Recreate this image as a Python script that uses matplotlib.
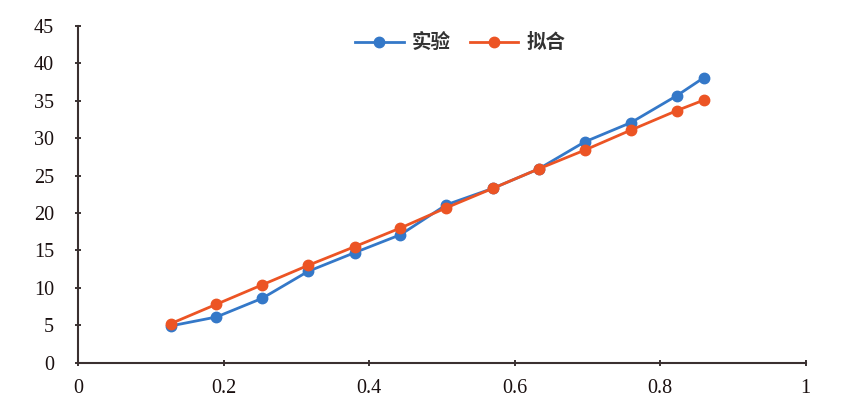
import matplotlib.pyplot as plt
import numpy as np

plt.rcParams['font.family'] = ['Liberation Serif', 'Noto Sans CJK SC', 'DejaVu Sans']

x = [0.127, 0.19, 0.253, 0.316, 0.38, 0.443, 0.506, 0.57, 0.633, 0.696, 0.76, 0.823, 0.86]
shiyan = [4.9, 6.1, 8.6, 12.2, 14.7, 17.1, 21.1, 23.3, 25.9, 29.5, 32.1, 35.7, 38.1]
nihe = [5.2, 7.8, 10.4, 13.0, 15.5, 18.0, 20.7, 23.3, 25.9, 28.4, 31.1, 33.7, 35.1]

fig = plt.figure(figsize=(8.59, 4.13), dpi=100)
ax = fig.add_axes([0.091, 0.122, 0.847, 0.815])

ax.plot(x, shiyan, marker='o', markersize=7.5, linewidth=2, color='#3478C8', label='实验')
ax.plot(x, nihe, marker='o', markersize=7.5, linewidth=2, color='#EC5424', label='拟合')

ax.set_xlim(0, 1)
ax.set_ylim(0, 45)
ax.set_xticks([0, 0.2, 0.4, 0.6, 0.8, 1])
ax.set_xticklabels(['0', '0.2', '0.4', '0.6', '0.8', '1'])
ax.set_yticks(np.arange(0, 46, 5))

for side in ['top', 'right']:
    ax.spines[side].set_visible(False)
for side in ['left', 'bottom']:
    ax.spines[side].set_color('#3a3030')
    ax.spines[side].set_linewidth(1.5)
ax.tick_params(axis='both', labelsize=14.5, colors='#1a1010', direction='inout', length=5, width=1.2)
ax.tick_params(axis='x', pad=9)
ax.tick_params(axis='y', pad=15)

leg = ax.legend(loc='center', bbox_to_anchor=(0.525, 0.95), ncol=2, frameon=False,
                prop={'family': ['Noto Sans CJK SC'], 'size': 14, 'weight': 'bold'},
                handlelength=2.5, columnspacing=1.0, handletextpad=0.4)
for t in leg.get_texts():
    t.set_color('#333333')

fig.savefig('out.png', dpi=100)
